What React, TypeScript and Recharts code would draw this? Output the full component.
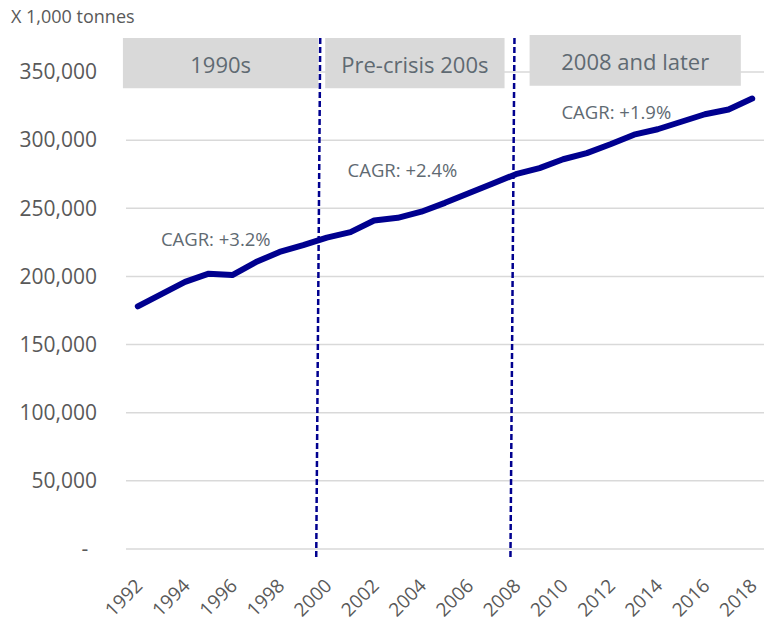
import React from 'react';
import {
  LineChart,
  Line,
  XAxis,
  YAxis,
  CartesianGrid,
  ReferenceLine,
  ReferenceArea,
  ReferenceDot,
} from 'recharts';

// Volume, x 1,000 tonnes
const years = [
  1992, 1993, 1994, 1995, 1996, 1997, 1998, 1999, 2000, 2001, 2002, 2003, 2004, 2005,
  2006, 2007, 2008, 2009, 2010, 2011, 2012, 2013, 2014, 2015, 2016, 2017, 2018,
];
const volumes = [
  178000, 187000, 196000, 202000, 201000, 210500, 218000, 223000, 228500, 232500, 241000,
  243000, 247500, 254000, 261000, 268000, 275000, 279500, 286000, 290500, 297000, 304000,
  308000, 313500, 319000, 322500, 330500,
];
const xTicks = [1992, 1994, 1996, 1998, 2000, 2002, 2004, 2006, 2008, 2010, 2012, 2014, 2016, 2018];
const yTicks = [0, 50000, 100000, 150000, 200000, 250000, 300000, 350000];

const periods = [
  { label: '1990s', from: 1991.37, to: 1999.64, top: 375000, bottom: 338000 },
  { label: 'Pre-crisis 200s', from: 1999.93, to: 2007.52, top: 375000, bottom: 338000 },
  { label: '2008 and later', from: 2008.58, to: 2017.52, top: 377200, bottom: 340000 },
];
const cagrLabels = [
  { text: 'CAGR: +3.2%', year: 1995.3, value: 227500 },
  { text: 'CAGR: +2.4%', year: 2003.2, value: 277500 },
  { text: 'CAGR: +1.9%', year: 2012.25, value: 320200 },
];
const breaks = [
  { top: 1999.72, bottom: 1999.55 },
  { top: 2007.94, bottom: 2007.77 },
];

const data = years.map((year, i) => ({ year, volume: volumes[i] }));

const FONT = '"Open Sans", sans-serif';
const TEXT = '#595959';
const NOTE = '#5f6a72';
const NAVY = '#00008f';

const YTick = (props: any) => {
  const { x, y, payload } = props;
  if (payload.value === 0) {
    return (
      <text x={x - 12} y={y} dy="0.35em" textAnchor="middle" fill={TEXT} fontSize={21} fontFamily={FONT}>
        -
      </text>
    );
  }
  return (
    <text x={x} y={y} dy="0.35em" textAnchor="end" fill={TEXT} fontSize={21} fontFamily={FONT}>
      {payload.value.toLocaleString('en-US')}
    </text>
  );
};

const XTick = (props: any) => {
  const { x, y, payload } = props;
  return (
    <g transform={`translate(${x + 6},${y + 36})`}>
      <text transform="rotate(-45)" textAnchor="end" fill={TEXT} fontSize={19} fontFamily={FONT}>
        {payload.value}
      </text>
    </g>
  );
};

export default function App() {
  return (
    <div style={{ position: 'absolute', left: 0, top: 0, width: 764, height: 623, background: '#fff' }}>
      <div
        style={{
          position: 'absolute',
          left: 11,
          top: 4,
          fontFamily: FONT,
          fontSize: 18,
          color: TEXT,
        }}
      >
        X 1,000 tonnes
      </div>
      <LineChart width={764} height={623} data={data} margin={{ top: 72, right: 0, bottom: 0, left: 0 }}>
        <CartesianGrid vertical={false} stroke="#d9d9d9" strokeWidth={1.5} />
        <XAxis
          dataKey="year"
          type="number"
          domain={[1991.5, 2018.5]}
          ticks={xTicks}
          axisLine={false}
          tickLine={false}
          tickSize={0}
          height={74}
          interval={0}
          tick={<XTick />}
        />
        <YAxis
          type="number"
          domain={[0, 350000]}
          ticks={yTicks}
          axisLine={false}
          tickLine={false}
          tickSize={0}
          tickMargin={29}
          width={126}
          tick={<YTick />}
        />
        {periods.map((p) => (
          <ReferenceArea
            key={p.label}
            x1={p.from}
            x2={p.to}
            y1={p.bottom}
            y2={p.top}
            ifOverflow="visible"
            fill="#d9d9d9"
            fillOpacity={1}
            stroke="none"
            label={{ value: p.label, position: 'center', fill: NOTE, fontSize: 22, fontFamily: FONT, dy: 2 }}
          />
        ))}
        {breaks.map((b, i) => (
          <ReferenceLine
            key={i}
            segment={[
              { x: b.top, y: 375000 },
              { x: b.bottom, y: -6000 },
            ]}
            ifOverflow="visible"
            stroke={NAVY}
            strokeWidth={2.5}
            strokeDasharray="6 3"
          />
        ))}
        {cagrLabels.map((c) => (
          <ReferenceDot
            key={c.text}
            x={c.year}
            y={c.value}
            r={0}
            stroke="none"
            fill="none"
            ifOverflow="visible"
            label={{ value: c.text, position: 'center', fill: NOTE, fontSize: 18.5, fontFamily: FONT }}
          />
        ))}
        <Line
          type="linear"
          dataKey="volume"
          stroke={NAVY}
          strokeWidth={6}
          strokeLinejoin="round"
          strokeLinecap="round"
          dot={false}
          activeDot={false}
          isAnimationActive={false}
        />
      </LineChart>
    </div>
  );
}
